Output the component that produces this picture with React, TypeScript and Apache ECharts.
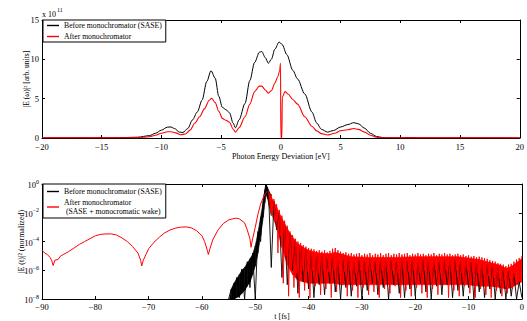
import React, { useEffect, useRef } from 'react';
import * as echarts from 'echarts';

const FONT = '"Liberation Serif", "Times New Roman", Times, serif';
const BLACK = '#000000';
const RED = '#ff0000';

// ---------- top panel: spectral intensity (units of 1e11) ----------
const saseX = [-20, -18, -16, -14, -13, -12, -11, -10.5, -10, -9.5, -9.2, -8.9, -8.5, -8.2, -7.8, -7.4, -7, -6.6, -6.2, -5.85, -5.5, -5.2, -4.9, -4.6, -4.3, -4.0, -3.8, -3.5, -3.0, -2.6, -2.2, -1.8, -1.6, -1.3, -1.05, -0.8, -0.5, -0.15, 0.1, 0.5, 1.0, 1.4, 2.0, 2.6, 3.0, 3.4, 3.9, 4.4, 5.0, 5.6, 6.1, 6.5, 7.0, 7.5, 8.0, 8.5, 9, 10, 10.8, 11.5, 13, 15, 17, 20];
const saseY = [0.02, 0.03, 0.03, 0.04, 0.06, 0.1, 0.3, 0.6, 1.0, 1.38, 1.4, 1.2, 0.75, 0.7, 1.2, 2.3, 3.3, 4.8, 7.2, 8.55, 7.6, 5.3, 3.9, 3.6, 3.2, 1.9, 1.3, 2.3, 4.4, 7.3, 9.6, 10.9, 11.0, 10.2, 9.5, 10.0, 11.3, 12.2, 11.9, 10.6, 8.6, 7.5, 5.6, 3.3, 1.9, 1.1, 0.75, 0.95, 1.4, 1.7, 1.95, 1.8, 1.25, 0.6, 0.2, 0.06, 0.03, 0.03, 0.06, 0.03, 0.02, 0.03, 0.02, 0.01];

const monoX = [-20, -14, -12, -11, -10.5, -10, -9.5, -9.2, -8.8, -8.4, -8.0, -7.6, -7.2, -6.8, -6.4, -6.0, -5.8, -5.5, -5.2, -4.9, -4.6, -4.3, -4.0, -3.8, -3.5, -3.0, -2.6, -2.2, -1.8, -1.6, -1.3, -1.05, -0.8, -0.5, -0.25, -0.1, -0.03, 0.0, 0.08, 0.12, 0.35, 0.6, 1.0, 1.4, 2.0, 2.6, 3.0, 3.4, 3.9, 4.5, 5.0, 5.6, 6.1, 6.5, 7.0, 7.5, 8.0, 8.5, 10, 15, 20];
const monoY = [0.01, 0.02, 0.05, 0.15, 0.35, 0.6, 0.8, 0.8, 0.65, 0.42, 0.5, 1.0, 1.9, 2.7, 3.7, 4.8, 5.05, 4.5, 3.4, 2.5, 2.25, 2.0, 1.15, 0.75, 1.3, 2.7, 4.3, 5.9, 6.6, 6.6, 6.1, 5.7, 6.0, 7.0, 7.8, 8.6, 9.5, 0.0, 0.0, 5.2, 5.9, 5.6, 4.9, 4.3, 2.7, 1.5, 0.9, 0.55, 0.38, 0.6, 0.93, 1.05, 1.2, 1.1, 0.75, 0.35, 0.1, 0.03, 0.02, 0.02, 0.01];

// ---------- bottom panel: temporal intensity, stored as log10 values ----------
// red monochromatic wake (t in fs, log10 intensity)
const wakeT = [-90, -89.5, -89, -88.5, -88.2, -87.9, -87.6, -87, -86.5, -86, -85, -84, -83, -82, -81, -80, -79, -78, -77, -76, -75, -74, -73, -72, -71.5, -71.3, -71, -70.5, -70, -69, -68, -67, -66, -65, -64, -63, -62, -61, -60, -59.5, -59, -58.8, -58.5, -58, -57, -56, -55, -54, -53.5, -53, -52, -51.5, -51, -50.8, -50.5, -50, -49.5, -49, -48.5, -48, -47.7];
const wakeLog = [-4.6, -4.8, -4.9, -5.1, -5.3, -5.67, -5.3, -5.25, -5.0, -4.9, -4.7, -4.45, -4.2, -4.0, -3.8, -3.6, -3.5, -3.47, -3.47, -3.55, -3.75, -4.0, -4.35, -4.8, -5.3, -5.7, -5.3, -4.9, -4.5, -4.05, -3.7, -3.4, -3.2, -3.07, -3.0, -2.98, -3.05, -3.25, -3.6, -4.0, -4.6, -4.9, -4.5, -3.9, -3.2, -2.75, -2.5, -2.4, -2.38, -2.42, -2.7, -3.2, -3.8, -4.4, -3.8, -3.0, -2.1, -1.4, -0.95, -0.6, -0.5];

// red noisy part, sampled every 0.25 fs from -47.5 fs to 0 fs
const redNoiseT0 = -47.5;
const redNoiseStep = 0.25;
const redNoiseLog = [
  -0.5, -1.2, -0.7, -2.0, -1.05, -2.6, -1.4, -4.8, -1.8, -3.6, -2.2, -6.9, -2.55, -5.0, -2.9, -7.8, -3.3, -5.9, -3.55, -7.2,
  -3.8, -6.2, -4.0, -7.9, -4.1, -6.0, -4.25, -7.4, -4.35, -6.1, -4.45, -7.9, -4.5, -6.0, -4.55, -7.1, -4.65, -6.2, -4.6, -7.7,
  -4.7, -6.0, -4.6, -7.3, -4.75, -6.1, -4.65, -7.9, -4.5, -6.0, -4.45, -7.5, -4.6, -6.2, -4.7, -7.0, -4.8, -6.1, -4.75, -7.8,
  -4.85, -6.0, -4.8, -7.4, -4.9, -6.2, -4.85, -7.9, -4.8, -6.0, -4.95, -7.2, -4.85, -6.1, -4.9, -7.7, -4.8, -6.0, -4.95, -7.5,
  -4.85, -6.2, -4.9, -7.9, -4.8, -6.0, -4.95, -7.3, -4.85, -6.1, -4.8, -7.6, -4.95, -6.0, -4.85, -7.1, -4.9, -6.2, -4.8, -7.9,
  -4.9, -6.0, -4.85, -7.4, -4.8, -6.1, -4.95, -7.8, -4.85, -6.0, -4.9, -7.2, -4.8, -6.2, -4.9, -7.6, -4.85, -6.0, -4.95, -7.9,
  -4.85, -6.1, -4.9, -7.3, -4.8, -6.0, -4.95, -7.7, -4.85, -6.2, -4.9, -7.0, -4.8, -6.0, -4.9, -7.9, -4.85, -6.1, -4.95, -7.4,
  -4.9, -6.0, -4.85, -7.8, -4.95, -6.2, -4.9, -7.1, -5.0, -6.0, -4.95, -7.6, -5.05, -6.1, -5.0, -7.9, -5.1, -6.2, -5.05, -7.3,
  -5.1, -6.3, -5.15, -7.7, -5.2, -6.4, -5.3, -7.9, -5.35, -6.5, -5.4, -7.4, -5.5, -6.6, -5.55, -7.8, -5.6, -6.7, -5.7, -7.6,
  -5.6, -6.6, -5.55, -7.3, -5.4, -6.5, -5.25, -7.0, -5.15, -6.3, -5.0,
];
// red dense core (log10 of upper and lower edges)
const redBandT = [-47.5, -47, -46, -45, -44, -43, -42, -41, -40, -38, -36, -35, -34, -32, -28, -24, -20, -16, -12, -10, -8, -6, -4, -3, -2, -1, 0];
const redBandTop = [-0.6, -0.9, -1.6, -2.4, -3.1, -3.7, -4.15, -4.4, -4.6, -4.8, -4.85, -4.75, -4.85, -5.05, -5.1, -5.1, -5.05, -5.05, -5.05, -5.15, -5.25, -5.45, -5.65, -5.85, -5.75, -5.45, -5.2];
const redBandBot = [-1.4, -2.0, -3.0, -4.4, -5.6, -6.3, -6.7, -6.8, -6.9, -6.9, -6.9, -6.9, -7.0, -7.0, -7.0, -7.0, -7.0, -7.0, -7.0, -7.0, -7.1, -7.1, -7.2, -7.3, -7.2, -7.0, -6.8];

// black SASE pulse, sampled every 0.5 fs from -55 fs to 0 fs
const blackNoiseT0 = -55;
const blackNoiseStep = 0.5;
const blackNoiseLog = [
  -8.0, -7.3, -8.0, -6.5, -7.9, -5.9, -8.0, -5.4, -7.2, -4.8,
  -8.0, -3.3, -4.0, -1.1, 0.0, -0.7, -5.8, -1.2, -3.2, -2.0,
  -6.5, -2.8, -7.0, -3.5, -6.0, -4.0, -7.6, -4.3, -6.8, -4.6,
  -7.3, -4.8, -7.9, -5.0, -7.0, -5.0, -7.7, -5.2, -6.9, -5.1,
  -7.5, -5.3, -8.0, -5.3, -7.2,
  -5.25, -7.8, -5.4, -7.1, -5.3, -8.0, -5.35, -7.4, -5.25, -6.9,
  -5.4, -7.7, -5.3, -7.2, -5.35, -8.0, -5.3, -7.0, -5.4, -7.6,
  -5.3, -7.9, -5.35, -7.3, -5.25, -7.8, -5.4, -6.9, -5.3, -7.5,
  -5.35, -8.0, -5.3, -7.1, -5.4, -7.7, -5.3, -7.0, -5.35, -7.9,
  -5.3, -7.4, -5.4, -7.8, -5.35, -7.2, -5.45, -8.0, -5.5, -7.5,
  -5.55, -7.9, -5.6, -7.3, -5.7, -8.0, -5.8, -7.6, -6.0, -8.0,
  -6.0, -7.8, -6.2, -8.0, -6.8, -7.9,
];
// black dense core of the rising edge and peak
const blackBandT = [-54.8, -54.5, -54, -53.5, -53, -52.5, -52, -51.5, -51, -50.5, -50, -49.5, -49, -48.5, -48.2, -48, -47.7, -47.3, -47];
const blackBandTop = [-7.95, -7.3, -6.9, -6.6, -6.3, -6.0, -5.8, -5.5, -5.2, -4.9, -4.3, -3.4, -2.3, -1.2, -0.45, -0.02, -0.25, -0.6, -0.85];
const blackBandBot = [-8, -8, -8, -7.9, -7.8, -7.6, -7.4, -7.1, -6.8, -6.3, -5.7, -4.8, -3.6, -2.3, -1.3, -0.7, -1.0, -1.6, -2.2];

const NAME_SASE = 'Before monochromator (SASE)';
const NAME_MONO = 'After monochromator';
const NAME_MONO2 = 'After monochromator\n (SASE + monocromatic wake)';

const minus = (v: number | string) => String(v).replace('-', '\u2212');

export default function App() {
  const ref = useRef<HTMLDivElement>(null);
  useEffect(() => {
    const chart = echarts.init(ref.current!, null, { renderer: 'svg' });
    const pow = (e: number) => Math.pow(10, e);
    const pairs = (xs: number[], ys: number[]) => xs.map((x, i) => [x, ys[i]]);
    const logPairs = (xs: number[], ys: number[]) => xs.map((x, i) => [x, pow(ys[i])]);
    const gridPairs = (t0: number, dt: number, ys: number[]) => ys.map((e, i) => [t0 + i * dt, pow(e)]);
    // band segments: [t0, t1, top0, bot0, top1, bot1]
    const bandSegs = (ts: number[], hi: number[], lo: number[]) =>
      ts.slice(0, -1).map((t, i) => [t, ts[i + 1], pow(hi[i]), pow(lo[i]), pow(hi[i + 1]), pow(lo[i + 1])]);
    const bandSeries = (ts: number[], hi: number[], lo: number[], color: string) => ({
      type: 'custom', xAxisIndex: 2, yAxisIndex: 2, silent: true, clip: true,
      encode: { x: [0, 1], y: [2, 3, 4, 5] },
      data: bandSegs(ts, hi, lo),
      renderItem: (_p: any, api: any) => {
        const a = api.coord([api.value(0), api.value(2)]);
        const b = api.coord([api.value(1), api.value(4)]);
        const c = api.coord([api.value(1), api.value(5)]);
        const d = api.coord([api.value(0), api.value(3)]);
        return {
          type: 'polygon',
          shape: { points: [a, b, c, d] },
          style: { fill: color, stroke: color, lineWidth: 0.6 },
        };
      },
    });

    const tickLabel = { fontFamily: FONT, fontSize: 8.5, color: '#000', margin: 3 };
    const axisLine = { show: true, onZero: false, lineStyle: { color: '#000', width: 1 } };
    const tickIn = { show: true, inside: true, length: 3, lineStyle: { color: '#000', width: 1 } };
    const nameStyle = { fontFamily: FONT, fontSize: 8, color: '#000' };
    const supRich = {
      b: { fontFamily: FONT, fontSize: 8.5, color: '#000', verticalAlign: 'bottom' },
      s: { fontFamily: FONT, fontSize: 6, color: '#000', verticalAlign: 'bottom', padding: [0, 0, 5, 0] },
    };
    const legendBase = {
      orient: 'vertical', selectedMode: false, backgroundColor: '#fff', borderColor: '#000', borderWidth: 1,
      icon: 'rect', itemGap: 2, itemWidth: 12, itemHeight: 1.4,
      textStyle: { fontFamily: FONT, fontSize: 7.7, color: '#000', lineHeight: 9 },
    };

    const option: any = {
      animation: false,
      backgroundColor: '#fff',
      grid: [
        { left: 42, top: 20, width: 483, height: 118, containLabel: false },
        { left: 42, top: 184, width: 483, height: 119, containLabel: false },
      ],
      xAxis: [
        {
          gridIndex: 0, type: 'value', min: -20, max: 20, interval: 5, position: 'bottom',
          axisLine, axisTick: tickIn, splitLine: { show: false },
          axisLabel: { ...tickLabel, margin: 4.5, formatter: (v: number) => minus(v) },
          name: 'Photon Energy Deviation [eV]', nameLocation: 'middle', nameGap: 12, nameTextStyle: nameStyle,
        },
        {
          gridIndex: 0, type: 'value', min: -20, max: 20, interval: 5, position: 'top',
          axisLine, axisTick: tickIn, splitLine: { show: false }, axisLabel: { show: false },
        },
        {
          gridIndex: 1, type: 'value', min: -90, max: 0, interval: 10, position: 'bottom',
          axisLine, axisTick: tickIn, splitLine: { show: false },
          axisLabel: { ...tickLabel, formatter: (v: number) => minus(v) },
          name: 't [fs]', nameLocation: 'middle', nameGap: 11, nameTextStyle: nameStyle,
        },
        {
          gridIndex: 1, type: 'value', min: -90, max: 0, interval: 10, position: 'top',
          axisLine, axisTick: tickIn, splitLine: { show: false }, axisLabel: { show: false },
        },
      ],
      yAxis: [
        {
          gridIndex: 0, type: 'value', min: 0, max: 15, interval: 5, position: 'left',
          axisLine, axisTick: tickIn, splitLine: { show: false },
          axisLabel: { ...tickLabel },
          name: '|E (\u03c9)|\u00b2 [arb. units]', nameLocation: 'middle', nameGap: 12, nameMoveOverlap: false,
          nameTextStyle: { ...nameStyle, fontSize: 7.5 },
        },
        {
          gridIndex: 0, type: 'value', min: 0, max: 15, interval: 5, position: 'right',
          axisLine, axisTick: tickIn, splitLine: { show: false }, axisLabel: { show: false },
        },
        {
          gridIndex: 1, type: 'log', logBase: 10, min: 1e-8, max: 1, interval: 2, position: 'left',
          axisLine, axisTick: tickIn, splitLine: { show: false }, minorTick: { show: false },
          axisLabel: {
            ...tickLabel,
            formatter: (v: number) => {
              const e = Math.round(Math.log10(v));
              return '{b|10}{s|' + minus(e) + '}';
            },
            rich: supRich,
          },
          name: '|E (t)|\u00b2 (normalized)', nameLocation: 'middle', nameGap: 17, nameMoveOverlap: false,
          nameTextStyle: nameStyle,
        },
        {
          gridIndex: 1, type: 'log', logBase: 10, min: 1e-8, max: 1, interval: 2, position: 'right',
          axisLine, axisTick: tickIn, splitLine: { show: false }, axisLabel: { show: false },
        },
      ],
      legend: [
        { ...legendBase, data: [NAME_SASE, NAME_MONO], left: 43, top: 20, padding: [1, 4, 1, 4] },
        { ...legendBase, data: [NAME_SASE, NAME_MONO2], left: 43, top: 184, padding: [3, 4, 2, 4] },
      ],
      graphic: [
        {
          type: 'text', left: 42, top: 7,
          style: {
            text: '{a|x 10}{s|11}',
            rich: {
              a: { fontFamily: FONT, fontSize: 8, fill: '#000', verticalAlign: 'bottom' },
              s: { fontFamily: FONT, fontSize: 6, fill: '#000', verticalAlign: 'bottom', padding: [0, 0, 5, 1] },
            },
          },
        },
      ],
      series: [
        {
          name: NAME_SASE, type: 'line', xAxisIndex: 0, yAxisIndex: 0, data: pairs(saseX, saseY),
          symbol: 'none', smooth: 0.3, smoothMonotone: 'x', lineStyle: { color: BLACK, width: 1 }, itemStyle: { color: BLACK },
        },
        {
          name: NAME_MONO, type: 'line', xAxisIndex: 0, yAxisIndex: 0, data: pairs(monoX, monoY),
          symbol: 'none', smooth: 0.3, smoothMonotone: 'x', lineStyle: { color: RED, width: 1.1 }, itemStyle: { color: RED },
        },
        // bottom panel
        bandSeries(blackBandT, blackBandTop, blackBandBot, BLACK),
        {
          name: NAME_SASE, type: 'line', xAxisIndex: 2, yAxisIndex: 2, data: gridPairs(blackNoiseT0, blackNoiseStep, blackNoiseLog),
          symbol: 'none', lineStyle: { color: BLACK, width: 0.9 }, itemStyle: { color: BLACK },
        },
        {
          name: NAME_MONO2, type: 'line', xAxisIndex: 2, yAxisIndex: 2, data: logPairs(wakeT, wakeLog),
          symbol: 'none', lineStyle: { color: RED, width: 1 }, itemStyle: { color: RED },
        },
        bandSeries(redBandT, redBandTop, redBandBot, RED),
        {
          name: NAME_MONO2, type: 'line', xAxisIndex: 2, yAxisIndex: 2, data: gridPairs(redNoiseT0, redNoiseStep, redNoiseLog),
          symbol: 'none', lineStyle: { color: RED, width: 0.9 }, itemStyle: { color: RED },
        },
      ],
    };
    chart.setOption(option);
    return () => chart.dispose();
  }, []);
  return (
    <div
      ref={ref}
      style={{ position: 'fixed', left: 0, top: 0, width: 527, height: 321, background: '#fff' }}
    />
  );
}
